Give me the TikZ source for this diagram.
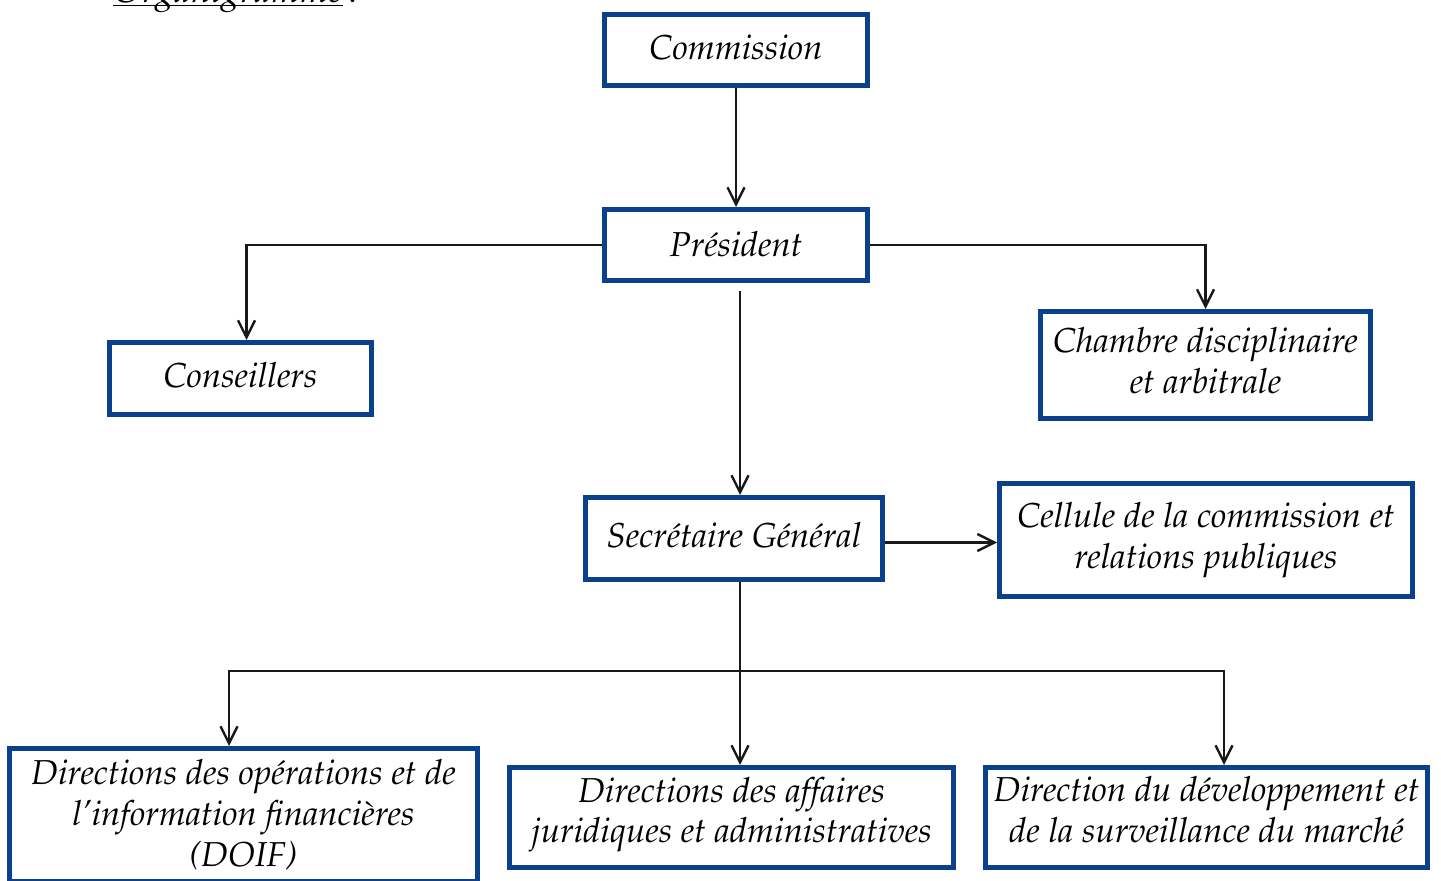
\documentclass[tikz,border=0pt]{standalone}
\usepackage[T1]{fontenc}
\renewcommand{\rmdefault}{ppl}
\usepackage{tikz}
\usetikzlibrary{arrows.meta,calc,positioning}
\definecolor{orgblue}{RGB}{10,64,140}
\definecolor{orgline}{RGB}{25,25,25}

\begin{document}
\begin{tikzpicture}[x=0.5pt,y=-0.5pt,>={Straight Barb[length=8.5pt,width=8.5pt]},
  orgbox/.style={draw=orgblue,line width=2.5pt,fill=white,inner sep=0pt,align=center,
    font=\fontsize{17.3}{20.5}\selectfont\itshape},
  lift/.style={execute at end node={\rule[-#1]{0pt}{0pt}}},
  conn/.style={->,draw=orgline,line width=1.2pt}]
  \useasboundingbox (0,0) rectangle (1441,881);
  % titre (coupe en haut)
  \node[anchor=base west,inner sep=0pt,font=\fontsize{18.5}{20}\selectfont\itshape] (title) at (113,3) {\underline{\smash{Organigramme}}\,:};
  % boites
  \node[orgbox,lift=3pt,minimum width=131.5pt,minimum height=35.5pt] (com) at (736,50) {Commission};
  \node[orgbox,lift=1pt,minimum width=131.5pt,minimum height=35.5pt] (pres) at (736,245) {Pr\'esident};
  \node[orgbox,lift=3pt,minimum width=131pt,minimum height=36pt] (cons) at (240.5,378.5) {Conseillers};
  \node[orgbox,lift=4pt,minimum width=165pt,minimum height=53.5pt] (cha) at (1205.5,365) {Chambre disciplinaire\\et arbitrale};
  \node[orgbox,lift=3pt,minimum width=148.5pt,minimum height=41pt] (sg) at (734,538.5) {Secr\'etaire G\'en\'eral};
  \node[orgbox,minimum width=206.5pt,minimum height=56.5pt] (cell) at (1206,540) {Cellule de la commission et\\relations publiques};
  \node[orgbox,minimum width=234pt,minimum height=66.5pt] (doif) at (243.5,815) {Directions des op\'erations et de\\l\textquoteright information financi\`eres\\(DOIF)};
  \node[orgbox,lift=7.5pt,minimum width=222pt,minimum height=50pt] (jur) at (731.5,817.5) {Directions des affaires\\juridiques et administratives};
  \node[orgbox,lift=8pt,minimum width=221pt,minimum height=50pt] (dev) at (1206.5,817.5) {Direction du d\'eveloppement et\\de la surveillance du march\'e};
  % liaisons
  \draw[conn] (com) -- (pres);
  \draw[conn] (pres.west) -| ([xshift=3pt]cons.north);
  \draw[conn] (pres.east) -| (cha.north);
  \draw[conn,shorten <=4pt] ([xshift=2pt]pres.south) -- ([xshift=2pt]pres.south |- sg.north);
  \draw[conn] ([yshift=-2pt]sg.east) -- ([yshift=-2pt]sg.east -| cell.west);
  \coordinate (bus) at (740,671);
  \draw[orgline,line width=1.2pt] (sg.south -| bus) -- (bus);
  \draw[conn] (bus) -- (bus |- jur.north);
  \draw[conn] (bus) -| ([xshift=-7.25pt]doif.north);
  \draw[conn] (bus) -| ([xshift=8.75pt]dev.north);
\end{tikzpicture}
\end{document}
